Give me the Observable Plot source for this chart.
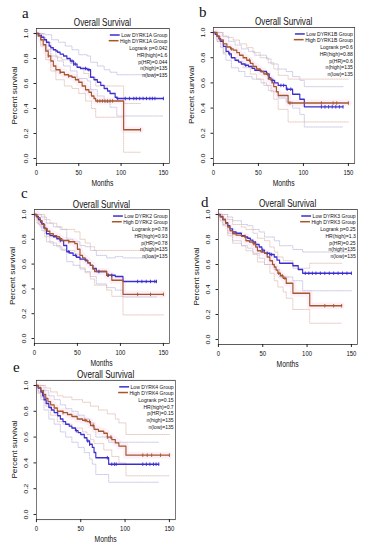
<!DOCTYPE html>
<html><head><meta charset="utf-8">
<script src="https://cdn.jsdelivr.net/npm/d3@7"></script>
<script src="https://cdn.jsdelivr.net/npm/@observablehq/plot@0.6"></script>
<style>
body{margin:0;background:#fff;}
#root{position:relative;width:373px;height:550px;overflow:hidden;font-family:"Liberation Sans",Arial,sans-serif;background:#fff;}
.panel{position:absolute;transform-origin:0 0;}
#letters{position:absolute;left:0;top:0;}
</style></head><body><div id="root"></div>
<script>
// ---------- text data ----------
const letters = ["a","b","c","d","e"];
const genes = ["DYRK1A","DYRK1B","DYRK2","DYRK3","DYRK4"];
const logrankP = ["0.042","0.6","0.78","0.25","0.15"];
const hrHigh = ["1.6","0.88","0.93","1.3","0.7"];
const pHR = ["0.044","0.6","0.78","0.25","0.15"];
const nHigh = [135,135,135,135,135];
const nLow = [135,135,135,135,135];
const xTicks = [0,50,100,150];
const yTicks = [0,0.2,0.4,0.6,0.8,1.0];

// ---------- panel a (DYRK1A) : [months, survival] ----------
const aLow = [[0,1],[3,0.985],[6,0.97],[9,0.95],[12,0.93],[15,0.9],[17,0.886],[20,0.87],[23,0.86],[25,0.85],[28,0.835],[32,0.82],[36,0.8],[40,0.78],[44,0.755],[48,0.73],[52,0.72],[60,0.71],[64,0.65],[68,0.63],[72,0.61],[76,0.585],[80,0.56],[84,0.54],[87,0.52],[93,0.49],[95,0.48],[150,0.48]];
const aLowUp = [[0,1],[10,0.99],[18,0.95],[26,0.93],[34,0.9],[42,0.87],[50,0.83],[60,0.82],[64,0.77],[72,0.74],[80,0.71],[87,0.69],[95,0.67],[150,0.67]];
const aLowLo = [[0,1],[6,0.94],[12,0.87],[17,0.82],[25,0.78],[32,0.74],[40,0.7],[48,0.64],[60,0.62],[64,0.55],[72,0.5],[80,0.45],[87,0.41],[95,0.34],[150,0.34]];
const aHigh = [[0,1],[2,0.98],[5,0.95],[8,0.91],[11,0.86],[14,0.82],[17,0.78],[20,0.74],[23,0.71],[28,0.69],[33,0.67],[38,0.66],[42,0.65],[46,0.63],[50,0.61],[54,0.58],[58,0.55],[62,0.53],[65,0.5],[68,0.48],[70,0.46],[103,0.23],[123,0.23]];
const aHighUp = [[0,1],[5,1],[8,0.97],[11,0.93],[17,0.87],[23,0.81],[30,0.79],[40,0.76],[48,0.73],[56,0.68],[62,0.65],[70,0.58],[103,0.44],[123,0.44]];
const aHighLo = [[0,1],[5,0.9],[11,0.79],[17,0.7],[23,0.63],[33,0.58],[42,0.56],[50,0.52],[58,0.46],[65,0.4],[70,0.33],[103,0.05],[123,0.05]];
const aLowCens = [42,44,46,58,62,96,105,110,115,118,122,126,130,134,137,140,150];
const aHighCens = [14,28,38,72,75,78,81,84,87,90,123];

// ---------- panel b (DYRK1B) ----------
const bLow = [[0,1],[2,0.985],[4,0.97],[6,0.95],[8,0.93],[11,0.89],[14,0.85],[17,0.83],[20,0.8],[24,0.78],[28,0.765],[31,0.75],[35,0.74],[39,0.73],[43,0.715],[46,0.7],[53,0.69],[59,0.67],[62,0.64],[64,0.62],[68,0.6],[72,0.58],[81,0.55],[88,0.51],[96,0.47],[101,0.41],[144,0.41]];
const bLowUp = [[0,1],[6,1],[10,0.97],[17,0.93],[24,0.9],[31,0.87],[39,0.85],[46,0.82],[59,0.79],[64,0.75],[72,0.71],[81,0.69],[88,0.65],[96,0.62],[101,0.57],[144,0.57]];
const bLowLo = [[0,1],[4,0.93],[8,0.88],[11,0.83],[14,0.78],[20,0.72],[28,0.69],[35,0.65],[43,0.63],[53,0.6],[59,0.58],[64,0.53],[72,0.48],[81,0.45],[88,0.4],[96,0.35],[101,0.25],[144,0.25]];
const bHigh = [[0,1],[4,0.97],[7,0.94],[11,0.91],[15,0.885],[19,0.87],[22,0.86],[26,0.84],[29,0.82],[33,0.8],[37,0.78],[41,0.755],[44,0.73],[48,0.71],[52,0.69],[56,0.67],[61,0.63],[65,0.6],[67,0.57],[70,0.53],[72,0.5],[83,0.44],[150,0.44]];
const bHighUp = [[0,1],[7,1],[11,0.97],[15,0.96],[22,0.94],[29,0.91],[37,0.88],[44,0.84],[52,0.8],[61,0.76],[67,0.71],[72,0.66],[83,0.63],[150,0.63]];
const bHighLo = [[0,1],[4,0.93],[11,0.84],[19,0.8],[26,0.77],[33,0.72],[41,0.67],[48,0.63],[56,0.58],[61,0.54],[67,0.47],[72,0.39],[83,0.29],[150,0.29]];
const bLowCens = [18,36,66,75,78,82,86,120,124,128,132,136,140,144];
const bHighCens = [20,40,60,85,120,133,137,150];

// ---------- panel c (DYRK2) ----------
const cLow = [[0,1],[2,0.985],[4.6,0.96],[7,0.94],[8.5,0.925],[11,0.89],[14,0.845],[18,0.83],[22,0.82],[26,0.805],[30,0.79],[34,0.75],[37.6,0.7],[41,0.69],[45,0.67],[49,0.655],[53,0.64],[59,0.63],[62,0.61],[65,0.59],[68,0.565],[72,0.54],[84,0.51],[94,0.5],[103,0.46],[142,0.46]];
const cLowUp = [[0,1],[5,1],[8.5,0.98],[14,0.93],[22,0.9],[30,0.88],[37.6,0.8],[45,0.78],[53,0.75],[59,0.74],[65,0.71],[72,0.67],[84,0.65],[94,0.66],[103,0.65],[142,0.65]];
const cLowLo = [[0,1],[4.6,0.92],[8.5,0.87],[14,0.78],[22,0.75],[30,0.72],[37.6,0.62],[45,0.59],[53,0.56],[59,0.54],[65,0.5],[72,0.44],[84,0.41],[94,0.39],[103,0.335],[142,0.335]];
const cHigh = [[0,1],[3,0.975],[6.6,0.95],[9,0.92],[12,0.885],[15,0.865],[18,0.845],[22,0.83],[26,0.82],[29,0.805],[32,0.79],[40,0.78],[47,0.765],[50,0.72],[53,0.67],[56,0.65],[59,0.63],[62,0.61],[65,0.59],[68,0.56],[70,0.54],[84,0.51],[90,0.47],[103,0.356],[150,0.356]];
const cHighUp = [[0,1],[6.6,1],[12,0.96],[18,0.93],[26,0.9],[32,0.88],[47,0.86],[53,0.8],[59,0.77],[65,0.74],[70,0.71],[150,0.71]];
const cHighLo = [[0,1],[3,0.93],[6.6,0.9],[12,0.82],[18,0.77],[26,0.74],[32,0.71],[47,0.68],[53,0.57],[59,0.53],[65,0.48],[70,0.43],[84,0.39],[90,0.34],[103,0.19],[150,0.19]];
const cLowCens = [30,40,48,60,75,86,90,120,125,130,135,140,142];
const cHighCens = [30,40,85,120,135,150];

// ---------- panel d (DYRK3) ----------
const dLow = [[0,1],[2,0.985],[5,0.96],[8,0.935],[10.5,0.91],[13,0.885],[16,0.86],[20,0.85],[26,0.83],[30,0.82],[33,0.81],[36,0.795],[39,0.78],[42,0.76],[46,0.74],[49,0.715],[52,0.69],[58,0.68],[63,0.66],[66,0.635],[69,0.61],[84,0.59],[90,0.56],[95,0.53],[150,0.53]];
const dLowUp = [[0,1],[5,1],[10.5,0.98],[16,0.95],[26,0.92],[33,0.91],[39,0.88],[46,0.86],[52,0.82],[63,0.79],[69,0.75],[84,0.72],[95,0.7],[150,0.7]];
const dLowLo = [[0,1],[5,0.92],[10.5,0.85],[16,0.79],[26,0.75],[33,0.73],[39,0.69],[46,0.65],[52,0.6],[63,0.56],[69,0.5],[84,0.47],[95,0.39],[150,0.39]];
const dHigh = [[0,1],[2,0.98],[5,0.96],[8,0.93],[10.5,0.9],[13,0.87],[16,0.846],[20,0.835],[26,0.825],[31,0.79],[35,0.78],[39,0.766],[42,0.74],[44,0.71],[48,0.7],[52,0.69],[55,0.66],[58,0.63],[61,0.6],[63,0.58],[65,0.555],[67,0.53],[70,0.51],[73,0.49],[76.5,0.45],[84,0.37],[103,0.27],[139,0.27]];
const dHighUp = [[0,1],[5,1],[10.5,0.96],[16,0.92],[26,0.9],[31,0.88],[39,0.85],[44,0.81],[52,0.79],[58,0.74],[63,0.7],[67,0.66],[73,0.63],[84,0.57],[103,0.61],[139,0.61]];
const dHighLo = [[0,1],[2,0.95],[5,0.91],[10.5,0.83],[16,0.77],[26,0.75],[31,0.71],[39,0.68],[44,0.62],[52,0.6],[58,0.53],[63,0.47],[67,0.42],[73,0.38],[76.5,0.33],[84,0.24],[103,0.13],[139,0.13]];
const dLowCens = [50,55,58,60,98,102,106,110,115,120,125,130,135,140,145,150];
const dHighCens = [30,40,68,72,75,120,130,139];

// ---------- panel e (DYRK4) ----------
const eLow = [[0,1],[2,0.98],[5,0.95],[7,0.92],[8.6,0.89],[11,0.86],[14,0.83],[17,0.81],[20,0.79],[24,0.765],[27,0.74],[30,0.72],[33,0.7],[37,0.685],[40,0.67],[44,0.65],[47,0.635],[50,0.62],[54,0.595],[57,0.57],[60,0.545],[63,0.52],[65,0.48],[67,0.44],[81.5,0.39],[138,0.39]];
const eLowUp = [[0,1],[5,1],[8.6,0.96],[14,0.92],[20,0.89],[27,0.85],[33,0.82],[40,0.8],[47,0.77],[54,0.74],[60,0.71],[65,0.67],[67,0.6],[81.5,0.56],[138,0.56]];
const eLowLo = [[0,1],[2,0.94],[5,0.89],[8.6,0.81],[14,0.74],[20,0.7],[27,0.64],[33,0.6],[40,0.56],[47,0.52],[54,0.48],[60,0.43],[63,0.39],[67,0.31],[81.5,0.25],[138,0.25]];
const eHigh = [[0,1],[2,0.985],[5,0.96],[8,0.93],[10.5,0.9],[13,0.875],[16,0.85],[20,0.825],[23.6,0.8],[30,0.79],[35,0.775],[40,0.76],[46,0.74],[52,0.73],[57,0.72],[61,0.69],[65,0.66],[70,0.645],[76,0.63],[80,0.6],[85,0.58],[89,0.555],[93,0.53],[101,0.46],[150,0.46]];
const eHighUp = [[0,1],[8,1],[10.5,0.98],[16,0.95],[23.6,0.92],[30,0.91],[40,0.89],[52,0.87],[61,0.84],[70,0.81],[80,0.78],[89,0.74],[93,0.71],[101,0.62],[150,0.62]];
const eHighLo = [[0,1],[2,0.95],[5,0.91],[10.5,0.84],[16,0.77],[23.6,0.72],[30,0.7],[40,0.67],[52,0.64],[57,0.62],[61,0.58],[65,0.55],[76,0.5],[85,0.45],[93,0.4],[101,0.3],[150,0.3]];
const eLowCens = [45,58,60,80,85,88,90,120,124,128,132,135,138];
const eHighCens = [30,55,60,64,80,84,120,125,130,140,150];

const panels = [
  {low:aLow, lowUp:aLowUp, lowLo:aLowLo, high:aHigh, highUp:aHighUp, highLo:aHighLo, lowCens:aLowCens, highCens:aHighCens},
  {low:bLow, lowUp:bLowUp, lowLo:bLowLo, high:bHigh, highUp:bHighUp, highLo:bHighLo, lowCens:bLowCens, highCens:bHighCens},
  {low:cLow, lowUp:cLowUp, lowLo:cLowLo, high:cHigh, highUp:cHighUp, highLo:cHighLo, lowCens:cLowCens, highCens:cHighCens},
  {low:dLow, lowUp:dLowUp, lowLo:dLowLo, high:dHigh, highUp:dHighUp, highLo:dHighLo, lowCens:dLowCens, highCens:dHighCens},
  {low:eLow, lowUp:eLowUp, lowLo:eLowLo, high:eHigh, highUp:eHighUp, highLo:eHighLo, lowCens:eLowCens, highCens:eHighCens}
];

// ---------- layout (screen pixels) ----------
const SX = 0.82; // horizontal squeeze of the original figure
const layout = [
  {left:0,   top:0,   x0:36,  x150:163, y1:33,  y0:158, lx:22, ly:18.3},
  {left:186, top:0,   x0:213, x150:348, y1:32,  y0:158, lx:199, ly:17.3},
  {left:0,   top:180, x0:34,  x150:163, y1:214, y0:338, lx:21, ly:198.3},
  {left:186, top:180, x0:218, x150:351, y1:214, y0:339, lx:201, ly:206.5},
  {left:0,   top:352, x0:36,  x150:169, y1:385, y0:514, lx:13, ly:372.3}
];
const FONT = '"Liberation Sans", Arial, sans-serif';
const lowC = "#3a2ed0", highC = "#a5562a", lowCI = "#b4b2dc", highCI = "#dcb4a8";

const toObj = arr => arr.map(([t, s]) => ({t, s}));
function survAt(curve, t) { let s = 1; for (const [ct, cs] of curve) { if (ct <= t) s = cs; else break; } return s; }
const cens = (curve, times) => times.map(t => ({t, s: survAt(curve, t)}));

const root = document.getElementById("root");

panels.forEach((p, i) => {
  const L = layout[i];
  const kx = (L.x150 - L.x0) / 150, ky = L.y0 - L.y1;
  const xMax = 157;
  const frameL = L.x0, frameR = L.x0 + kx * xMax;
  const frameT = L.y1 - 0.04 * ky, frameB = L.y0 + 0.04 * ky;
  const W = 187 / SX, H = 196;
  const mL = (frameL - L.left) / SX, mR = W - (frameR - L.left) / SX;
  const mT = frameT - L.top, mB = H - (frameB - L.top);
  const line = (d, o) => Plot.line(toObj(d), {x: "t", y: "s", curve: "step-after", ...o});
  const ciStyle = {strokeWidth: 0.75, strokeDasharray: "1,1.2"};
  const tick = 0.014;
  const plot = Plot.plot({
    width: W, height: H,
    marginLeft: mL, marginRight: mR, marginTop: mT, marginBottom: mB,
    x: {domain: [0, xMax]},
    y: {domain: [-0.04, 1.04]},
    style: {background: "transparent", fontFamily: FONT, fontSize: "7.3px", color: "#111", overflow: "visible"},
    marks: [
      line(p.high, {stroke: "#f070b8", strokeOpacity: 0.1, strokeWidth: 7}),
      line(p.lowUp, {stroke: lowCI, ...ciStyle}),
      line(p.lowLo, {stroke: lowCI, ...ciStyle}),
      line(p.highUp, {stroke: highCI, ...ciStyle}),
      line(p.highLo, {stroke: highCI, ...ciStyle}),
      line(p.low, {stroke: lowC, strokeWidth: 1.4}),
      line(p.high, {stroke: highC, strokeWidth: 1.4}),
      Plot.link(cens(p.low, p.lowCens), {x1: "t", x2: "t", y1: d => d.s - tick, y2: d => d.s + tick, stroke: lowC, strokeWidth: 1}),
      Plot.link(cens(p.high, p.highCens), {x1: "t", x2: "t", y1: d => d.s - tick, y2: d => d.s + tick, stroke: highC, strokeWidth: 1}),
      Plot.frame({stroke: "#333", strokeWidth: 0.8}),
      Plot.axisX({ticks: xTicks, tickSize: 3, tickPadding: 3.5, tickFormat: d => String(d), label: null, fontSize: 7.3}),
      Plot.axisY({ticks: yTicks, tickSize: 3, tickFormat: () => "", label: null}),
      Plot.text(yTicks, {y: d => d, frameAnchor: "left", text: d => d.toFixed(1), rotate: -90, dx: -10 / SX, textAnchor: "middle", lineAnchor: "middle", fontSize: 7.3, fill: "#111"})
    ]
  });
  const div = document.createElement("div");
  div.className = "panel";
  div.style.left = L.left + "px";
  div.style.top = L.top + "px";
  div.style.width = W + "px";
  div.style.transform = `scale(${SX},1)`;
  div.appendChild(plot);
  root.appendChild(div);

  const svg = d3.select(plot);
  const g = svg.append("g").attr("font-family", FONT).attr("fill", "#111");
  const cx = (mL + (W - mR)) / 2, cy = (mT + (H - mB)) / 2;
  g.append("text").attr("x", cx).attr("y", mT - 1.5).attr("text-anchor", "middle").attr("font-size", 10).text("Overall Survival");
  g.append("text").attr("transform", `translate(${mL - 21 / SX},${cy}) rotate(-90)`).attr("text-anchor", "middle").attr("dominant-baseline", "central").attr("font-size", 8.2).text("Percent survival");
  g.append("text").attr("x", cx).attr("y", H - mB + 20).attr("text-anchor", "middle").attr("dominant-baseline", "central").attr("font-size", 8.2).text("Months");

  // legend (top-right inside frame)
  const xr = W - mR - 1.5 / SX;
  const fs = 6.2;
  const rows = [7, 12.7];
  const names = [`Low ${genes[i]} Group`, `High ${genes[i]} Group`];
  const cols = [lowC, highC];
  names.forEach((n, k) => {
    const t = g.append("text").attr("x", xr).attr("y", mT + rows[k]).attr("text-anchor", "end").attr("dominant-baseline", "central").attr("font-size", fs).text(n);
    const w = t.node().getComputedTextLength();
    const xs = xr - w - 1.5 / SX;
    g.append("line").attr("x1", xs - 12).attr("x2", xs).attr("y1", mT + rows[k]).attr("y2", mT + rows[k]).attr("stroke", cols[k]).attr("stroke-width", 1.5);
  });
  const stats = [`Logrank p=${logrankP[i]}`, `HR(high)=${hrHigh[i]}`, `p(HR)=${pHR[i]}`, `n(high)=${nHigh[i]}`, `n(low)=${nLow[i]}`];
  stats.forEach((s, k) => {
    g.append("text").attr("x", xr).attr("y", mT + 20 + k * 6.7).attr("text-anchor", "end").attr("dominant-baseline", "central").attr("font-size", fs).text(s);
  });
});

// panel letters
const ls = d3.select(root).append("svg").attr("id", "letters").attr("width", 373).attr("height", 550);
letters.forEach((l, i) => {
  ls.append("text").attr("x", layout[i].lx).attr("y", layout[i].ly).attr("font-family", '"Liberation Serif", "DejaVu Serif", serif').attr("font-size", 15).attr("fill", "#111").text(l);
});
</script></body></html>
